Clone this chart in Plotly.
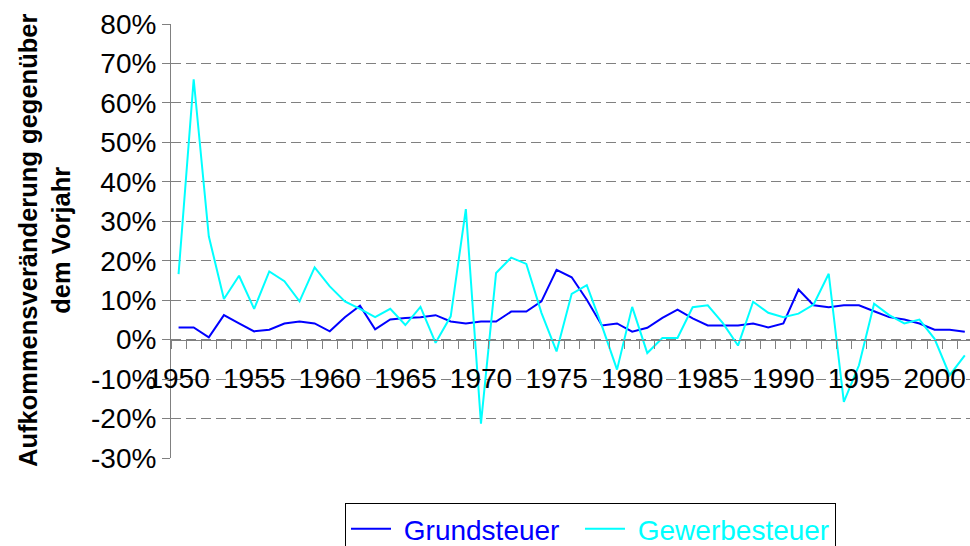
import plotly.graph_objects as go

years = list(range(1950, 2003))
grundsteuer = [3.1, 3.1, 0.6, 6.2, 4.1, 2.1, 2.5, 4.1, 4.6, 4.1,
               2.1, 5.7, 8.6, 2.6, 5.1, 5.5, 5.7, 6.2, 4.6, 4.1,
               4.6, 4.6, 7.1, 7.1, 9.7, 17.7, 15.8, 10.1, 3.6, 4.1,
               2.0, 3.0, 5.5, 7.6, 5.4, 3.6, 3.6, 3.6, 4.1, 3.1,
               4.1, 12.7, 8.7, 8.2, 8.7, 8.7, 7.2, 5.7, 5.1, 4.1,
               2.5, 2.5, 2.0]
gewerbesteuer = [16.6, 66.0, 26.2, 10.3, 16.2, 7.8, 17.3, 14.8, 9.7, 18.3,
                 13.5, 9.7, 7.8, 5.7, 7.8, 3.7, 8.3, -0.8, 5.9, 33.1,
                 -21.3, 16.9, 20.8, 19.2, 6.8, -3.0, 11.6, 13.8, 3.5, -7.6,
                 8.3, -3.4, 0.4, 0.4, 8.2, 8.7, 4.2, -1.5, 9.6, 6.8,
                 5.7, 6.6, 8.9, 16.7, -15.8, -6.5, 9.1, 6.2, 4.1, 5.1,
                 0.2, -9.0, -4.0]
label_years = list(range(1950, 2001, 5))
y_ticks = list(range(-30, 81, 10))

FONT = "Arial, Liberation Sans, sans-serif"
W, H = 970, 546
L, R, T, B = 171, 0, 24, 88
plot_w = W - L - R
plot_h = H - T - B
zero_pos = (0 - (-30)) / (80 - (-30))

fig = go.Figure()
fig.add_trace(go.Scatter(x=years, y=grundsteuer, mode="lines",
                         line=dict(color="#0000FF", width=2),
                         name="<span style='color:#0000FF'>&nbsp;Grundsteuer&nbsp;&nbsp;</span>"))
fig.add_trace(go.Scatter(x=years, y=gewerbesteuer, mode="lines",
                         line=dict(color="#00FFFF", width=2),
                         name="<span style='color:#00FFFF'>&nbsp;Gewerbesteuer</span>"))

fig.update_layout(
    width=W, height=H,
    margin=dict(l=L, r=R, t=T, b=B, autoexpand=False),
    paper_bgcolor="white", plot_bgcolor="white",
    font=dict(family=FONT, size=28, color="black"),
    showlegend=True,
    legend=dict(orientation="h", x=(345 - L) / plot_w, xanchor="left",
                y=(T + plot_h - 503) / plot_h, yanchor="top",
                bordercolor="#000000", borderwidth=1,
                font=dict(size=28, family=FONT),
                tracegroupgap=0, itemwidth=40),
    xaxis=dict(
        range=[1949.5, 1949.5 + plot_w / 15.12],
        anchor="free", position=zero_pos, automargin=False,
        showgrid=False, zeroline=False,
        showline=True, linecolor="#808080", linewidth=1,
        tickmode="array", tickvals=label_years,
        ticktext=[str(v) for v in label_years],
        ticks="", ticklabelstandoff=14,
        tickfont=dict(size=28, family=FONT, color="black"),
        minor=dict(tickmode="linear", tick0=1949.5, dtick=1,
                   ticks="outside", ticklen=8, tickcolor="#808080",
                   showgrid=False),
    ),
    yaxis=dict(
        range=[-30, 80], tickmode="array", tickvals=y_ticks,
        ticktext=[f"{v}%" for v in y_ticks], automargin=False,
        showgrid=True, gridcolor="#808080", gridwidth=1, griddash="10px,5px",
        zeroline=False, showline=True, linecolor="#808080", linewidth=1,
        ticks="outside", ticklen=8, tickcolor="#808080",
        tickfont=dict(size=28, family=FONT, color="black"),
    ),
    annotations=[dict(
        text="<b>Aufkommensveränderung gegenüber<br>dem Vorjahr</b>",
        xref="paper", yref="paper", x=(44 - L) / plot_w, y=0.5,
        xanchor="center", yanchor="middle", textangle=-90, showarrow=False,
        font=dict(size=25.5, family=FONT, color="black"),
    )],
)

fig.write_html("out.html",
               config={"displayModeBar": False},
               post_script="document.body.style.margin='0';document.body.style.overflow='hidden';")
